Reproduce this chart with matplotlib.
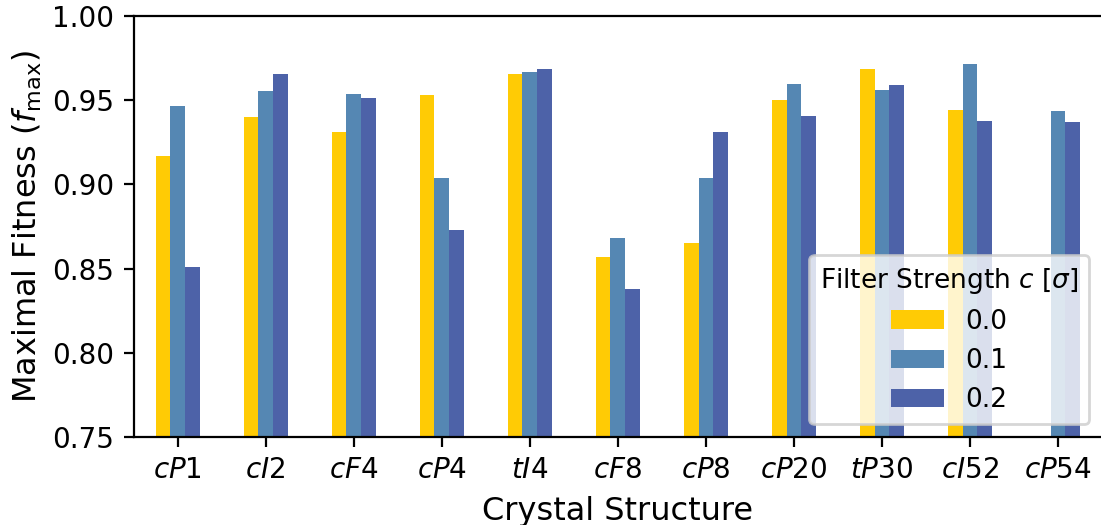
import numpy as np
import matplotlib
matplotlib.use("Agg")
from matplotlib import pyplot

structures = ["cP1", "cI2", "cF4", "cP4", "tI4", "cF8", "cP8", "cP20", "tP30", "cI52", "cP54"]
strengths = ["0.0", "0.1", "0.2"]

# maximal fitness per filter strength (cP54 has no value for c = 0.0)
fit_00 = [0.917, 0.940, 0.931, 0.953, 0.9655, 0.857, 0.865, 0.950, 0.9685, 0.944, np.nan]
fit_01 = [0.9467, 0.9555, 0.9537, 0.904, 0.9667, 0.868, 0.904, 0.9597, 0.956, 0.9715, 0.9437]
fit_02 = [0.8508, 0.9656, 0.9514, 0.8727, 0.9685, 0.8378, 0.9313, 0.9408, 0.959, 0.9378, 0.9372]

colors = ["#ffcb05", "#5587b3", "#4d62a8"]

fig, ax = pyplot.subplots(figsize=(1101 / 200, 525 / 200), dpi=200)
fig.subplots_adjust(left=0.1213, right=1.001, top=0.9695, bottom=0.1676)

x = np.arange(len(structures))
w = 0.5 / 3
for i, (vals, lab) in enumerate(zip([fit_00, fit_01, fit_02], strengths)):
    ax.bar(x + (i - 1) * w, vals, width=w, color=colors[i], label=lab)

ax.set_xlim(-0.5, len(structures) - 0.5)
ax.set_ylim(0.75, 1.00)
ax.set_yticks([0.75, 0.80, 0.85, 0.90, 0.95, 1.00])
ax.set_xticks(x)
ax.set_xticklabels(["$" + s + "$" for s in structures])
ax.tick_params(labelsize=10)

ax.set_xlabel("Crystal Structure", fontsize=11.5)
ax.set_ylabel(r"Maximal Fitness ($f_{\mathrm{max}}$)", fontsize=11.5, labelpad=3)

ax.legend(title=r"Filter Strength $c$ [$\sigma$]", loc="lower right",
          fontsize=9.5, title_fontsize=9.5)

fig.savefig("out.png", dpi=200)
